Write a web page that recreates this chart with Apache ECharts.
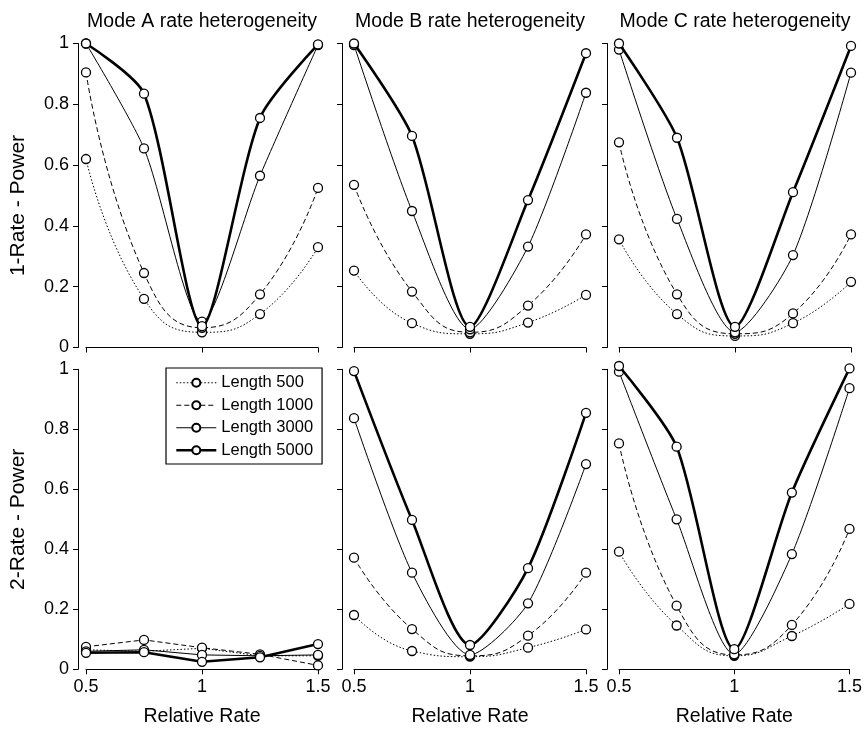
<!DOCTYPE html>
<html>
<head>
<meta charset="utf-8">
<script src="https://cdn.jsdelivr.net/npm/echarts@6/dist/echarts.min.js"></script>
<style>
  html, body { margin: 0; padding: 0; background: #fff; }
  #chart { width: 865px; height: 733px; }
</style>
</head>
<body>
<div id="chart"></div>
<script>
const rates = [0.5, 0.75, 1, 1.25, 1.5];
const lengths = ['Length 500', 'Length 1000', 'Length 3000', 'Length 5000'];
const panelTitles = ['Mode A rate heterogeneity', 'Mode B rate heterogeneity', 'Mode C rate heterogeneity'];
const rowNames = ['1-Rate - Power', '2-Rate - Power'];

// 1-rate test
const oneA500 = [0.62, 0.16, 0.05, 0.11, 0.33];
const oneA1000 = [0.905, 0.245, 0.065, 0.175, 0.525];
const oneA3000 = [1.0, 0.655, 0.085, 0.565, 0.995];
const oneA5000 = [1.0, 0.835, 0.07, 0.755, 0.997];

const oneB500 = [0.253, 0.08, 0.045, 0.082, 0.173];
const oneB1000 = [0.535, 0.184, 0.05, 0.138, 0.372];
const oneB3000 = [0.995, 0.449, 0.06, 0.332, 0.838];
const oneB5000 = [1.0, 0.696, 0.068, 0.485, 0.968];

const oneC500 = [0.356, 0.11, 0.038, 0.08, 0.216];
const oneC1000 = [0.675, 0.175, 0.045, 0.112, 0.372];
const oneC3000 = [0.98, 0.423, 0.05, 0.304, 0.904];
const oneC5000 = [1.0, 0.69, 0.068, 0.511, 0.992];

// 2-rate test
const twoA500 = [0.065, 0.06, 0.07, 0.045, 0.045];
const twoA1000 = [0.075, 0.098, 0.072, 0.05, 0.013];
const twoA3000 = [0.06, 0.065, 0.048, 0.045, 0.048];
const twoA5000 = [0.055, 0.057, 0.025, 0.04, 0.084];

const twoB500 = [0.181, 0.061, 0.042, 0.072, 0.133];
const twoB1000 = [0.372, 0.134, 0.045, 0.112, 0.322];
const twoB3000 = [0.837, 0.322, 0.048, 0.22, 0.684];
const twoB5000 = [0.994, 0.498, 0.081, 0.337, 0.855];

const twoC500 = [0.392, 0.146, 0.045, 0.111, 0.218];
const twoC1000 = [0.753, 0.212, 0.048, 0.148, 0.468];
const twoC3000 = [0.992, 0.5, 0.05, 0.384, 0.937];
const twoC5000 = [1.011, 0.742, 0.067, 0.589, 1.003];

// panel order: row 0 = A,B,C (1-rate), row 1 = A,B,C (2-rate)
const panels = [
  [oneA500, oneA1000, oneA3000, oneA5000],
  [oneB500, oneB1000, oneB3000, oneB5000],
  [oneC500, oneC1000, oneC3000, oneC5000],
  [twoA500, twoA1000, twoA3000, twoA5000],
  [twoB500, twoB1000, twoB3000, twoB5000],
  [twoC500, twoC1000, twoC3000, twoC5000]
];

const FONT = 'Liberation Sans, Arial, Helvetica, sans-serif';
const colLeft = [86, 354, 619];
const plotW = 232;
const rowTop = [43.5, 369.3];
const rowH = [304, 300];
const yOffset = [8, 12, 12];

// line look for each length
const lineLook = [
  { width: 1, type: [1.5, 2], smooth: 0.5 },
  { width: 1, type: [5, 3], smooth: 0.5 },
  { width: 1, type: 'solid', smooth: 0.25 },
  { width: 2.6, type: 'solid', smooth: 0.25 }
];

const grids = [], xAxes = [], yAxes = [], series = [];
for (let p = 0; p < 6; p++) {
  const row = Math.floor(p / 3), col = p % 3;
  grids.push({ left: colLeft[col], top: rowTop[row], width: plotW, height: rowH[row] });
  xAxes.push({
    gridIndex: p, type: 'value', min: 0.5, max: 1.5, interval: 0.5,
    axisLine: { show: true, lineStyle: { color: '#000', width: 1 } },
    axisTick: { show: true, length: 5, lineStyle: { color: '#000' } },
    splitLine: { show: false },
    axisLabel: { show: row === 1, color: '#000', fontSize: 18, fontFamily: FONT, margin: 9 },
    name: row === 1 ? 'Relative Rate' : '',
    nameLocation: 'middle', nameGap: 37,
    nameTextStyle: { color: '#000', fontSize: 19.5, fontFamily: FONT }
  });
  yAxes.push({
    gridIndex: p, type: 'value', min: 0, max: 1, interval: 0.2, offset: yOffset[col],
    axisLine: { show: true, lineStyle: { color: '#000', width: 1 } },
    axisTick: { show: true, length: 5, lineStyle: { color: '#000' } },
    splitLine: { show: false },
    axisLabel: { show: col === 0, color: '#000', fontSize: 18, fontFamily: FONT, margin: 9 },
    name: col === 0 ? rowNames[row] : '',
    nameLocation: 'middle', nameGap: 49,
    nameTextStyle: {
      color: '#000', fontSize: 21, fontFamily: FONT,
      padding: row === 0 ? [0, 20, 0, 0] : [0, 0, 0, 0]
    }
  });
  panels[p].forEach((vals, k) => {
    const look = lineLook[k];
    series.push({
      name: lengths[k], type: 'line', xAxisIndex: p, yAxisIndex: p,
      data: rates.map((r, i) => [r, vals[i]]),
      smooth: row === 1 && col === 0 ? false : look.smooth,
      clip: false,
      symbol: 'circle', symbolSize: 9,
      itemStyle: { color: '#fff', borderColor: '#000', borderWidth: 1.3 },
      lineStyle: { color: '#000', width: look.width, type: look.type },
      emphasis: { disabled: true },
      z: 2 + k
    });
  });
}

const titles = panelTitles.map((t, c) => ({
  text: t, left: colLeft[c] + plotW / 2, top: 12, textAlign: 'center', padding: 0,
  textStyle: { color: '#000', fontSize: 19.5, fontWeight: 'normal', fontFamily: FONT }
}));

const legendItems = lengths.map((name, k) => ({
  name: name,
  lineStyle: { width: lineLook[k].width, type: lineLook[k].type, color: '#000' }
}));

const chart = echarts.init(document.getElementById('chart'));
chart.setOption({
  animation: false,
  backgroundColor: '#fff',
  textStyle: { fontFamily: FONT },
  title: titles,
  legend: {
    data: legendItems, orient: 'vertical', left: 166, top: 368,
    itemWidth: 40, itemHeight: 10, itemGap: 5,
    padding: [6, 9, 5, 9],
    borderColor: '#000', borderWidth: 1.2,
    backgroundColor: '#fff',
    selectedMode: false,
    textStyle: { color: '#000', fontSize: 16.5, fontFamily: FONT, lineHeight: 17.5 }
  },
  grid: grids,
  xAxis: xAxes,
  yAxis: yAxes,
  series: series
});
</script>
</body>
</html>
